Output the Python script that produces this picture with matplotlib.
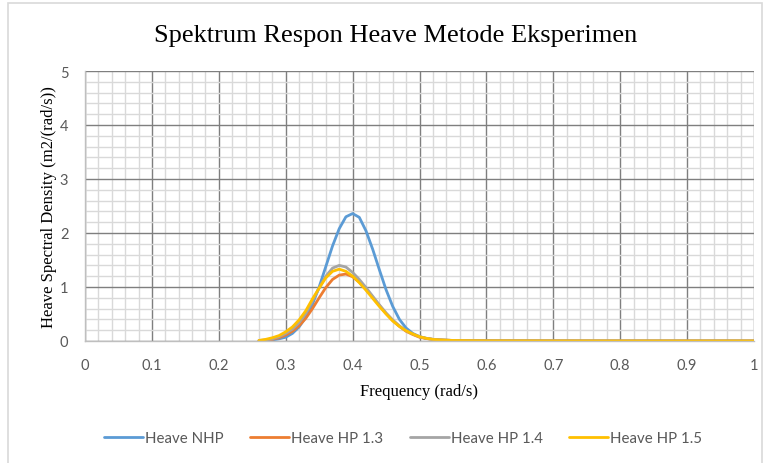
import matplotlib
matplotlib.use("Agg")
import matplotlib.pyplot as plt
from matplotlib.patches import Rectangle
from matplotlib.ticker import MultipleLocator

# frekuensi (rad/s) dan spektrum respon heave
freq = [0.26, 0.27, 0.28, 0.29, 0.30, 0.31, 0.32, 0.33, 0.34, 0.35,
        0.36, 0.37, 0.38, 0.39, 0.40, 0.41, 0.42, 0.43, 0.44, 0.45,
        0.46, 0.47, 0.48, 0.49, 0.50, 0.51, 0.52, 0.53, 0.54, 0.55,
        0.56, 0.57, 0.58, 0.59, 0.60, 0.70, 0.80, 0.90, 1.00]

heave_nhp = [0.00, 0.01, 0.02, 0.04, 0.07, 0.14, 0.26, 0.44, 0.68, 1.00,
             1.38, 1.76, 2.08, 2.30, 2.36, 2.29, 2.04, 1.70, 1.32, 0.95,
             0.64, 0.40, 0.24, 0.14, 0.08, 0.05, 0.03, 0.02, 0.015, 0.01,
             0.008, 0.006, 0.005, 0.004, 0.003, 0.001, 0.0, 0.0, 0.0]

heave_hp13 = [0.00, 0.01, 0.03, 0.06, 0.11, 0.18, 0.28, 0.42, 0.60, 0.80,
              0.99, 1.14, 1.22, 1.24, 1.19, 1.09, 0.96, 0.81, 0.66, 0.51,
              0.38, 0.27, 0.18, 0.12, 0.07, 0.045, 0.03, 0.02, 0.015, 0.01,
              0.008, 0.006, 0.005, 0.004, 0.003, 0.001, 0.0, 0.0, 0.0]

heave_hp14 = [0.01, 0.02, 0.04, 0.08, 0.14, 0.22, 0.34, 0.51, 0.74, 0.98,
              1.20, 1.35, 1.40, 1.37, 1.27, 1.14, 0.99, 0.83, 0.67, 0.52,
              0.39, 0.28, 0.19, 0.13, 0.08, 0.05, 0.03, 0.02, 0.015, 0.01,
              0.008, 0.006, 0.005, 0.004, 0.003, 0.001, 0.0, 0.0, 0.0]

heave_hp15 = [0.01, 0.03, 0.06, 0.10, 0.17, 0.26, 0.39, 0.56, 0.78, 0.98,
              1.17, 1.29, 1.33, 1.29, 1.20, 1.08, 0.94, 0.79, 0.64, 0.50,
              0.37, 0.27, 0.19, 0.13, 0.08, 0.05, 0.03, 0.02, 0.015, 0.01,
              0.008, 0.006, 0.005, 0.004, 0.003, 0.001, 0.0, 0.0, 0.0]

labels = ["Heave NHP", "Heave HP 1.3", "Heave HP 1.4", "Heave HP 1.5"]
colors = ["#5B9BD5", "#ED7D31", "#A5A5A5", "#FFC000"]
xtick_labels = ["0", "0.1", "0.2", "0.3", "0.4", "0.5", "0.6", "0.7", "0.8", "0.9", "1"]

fig = plt.figure(figsize=(7.68, 4.64), dpi=100)
fig.patch.set_facecolor("white")
fig.patches.append(Rectangle((8 / 768, -0.1), 754 / 768, 1.1 - 4 / 464,
                             transform=fig.transFigure, fill=False,
                             edgecolor="#d9d9d9", lw=1.2))

ax = fig.add_axes([85 / 768, 1 - 342 / 464, 669 / 768, 270 / 464])

series = [heave_nhp, heave_hp13, heave_hp14, heave_hp15]
for s, lab, c in zip(series, labels, colors):
    ax.plot(freq, s, color=c, lw=2.0, label=lab, solid_capstyle="round",
            solid_joinstyle="round")

ax.set_xlim(0, 1)
ax.set_ylim(0, 5)
ax.xaxis.set_minor_locator(MultipleLocator(0.02))
ax.yaxis.set_major_locator(MultipleLocator(1))
ax.yaxis.set_minor_locator(MultipleLocator(0.2))
ax.set_xticks([i / 10 for i in range(11)])
ax.set_xticklabels(xtick_labels, family="Lato")
for lab in ax.get_yticklabels():
    lab.set_family("Lato")
ax.grid(which="minor", color="#d9d9d9", lw=1.0)
ax.grid(which="major", color="#7f7f7f", lw=1.0)
ax.set_axisbelow(True)
ax.tick_params(which="both", length=0)
ax.tick_params(axis="x", labelsize=10.5, labelcolor="#595959", pad=12)
ax.tick_params(axis="y", labelsize=10.5, labelcolor="#595959", pad=12)
for sp in ["top", "right"]:
    ax.spines[sp].set_visible(False)
for sp in ["left", "bottom"]:
    ax.spines[sp].set_color("#bfbfbf")
    ax.spines[sp].set_linewidth(1.0)

fig.text(0.515, 1 - 36 / 464, "Spektrum Respon Heave Metode Eksperimen",
         family="Liberation Serif", fontsize=19, ha="center", va="center")
ax.set_xlabel("Frequency (rad/s)", family="Liberation Serif", fontsize=12, labelpad=8)
ax.set_ylabel("Heave Spectral Density (m2/(rad/s))", family="Liberation Serif",
              fontsize=12, labelpad=2)

leg = fig.legend(loc="center", bbox_to_anchor=(0.525, 1 - 439 / 464), ncol=4,
                 frameon=False, handlelength=2.6, handletextpad=0.15,
                 columnspacing=1.75, prop={"family": "Lato", "size": 10.8})
for t in leg.get_texts():
    t.set_color("#595959")

plt.savefig("out.png", dpi=100)
plt.close()
